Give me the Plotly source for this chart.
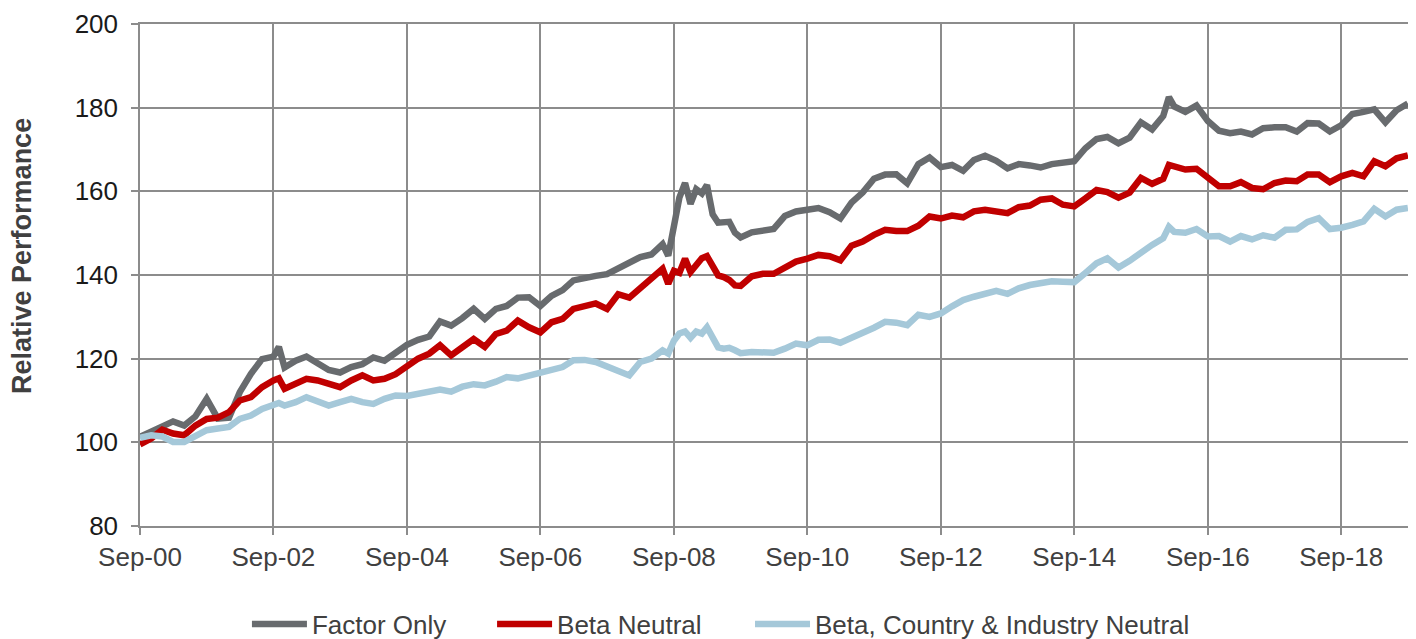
import plotly.graph_objects as go

dates = [
    "2000-09-01", "2000-11-01", "2001-01-01", "2001-03-01", "2001-05-01", "2001-07-01",
    "2001-09-01", "2001-11-01", "2002-01-01", "2002-03-01", "2002-05-01", "2002-07-01",
    "2002-09-01", "2002-10-01", "2002-11-01", "2003-01-01", "2003-03-01", "2003-05-01",
    "2003-07-01", "2003-09-01", "2003-11-01", "2004-01-01", "2004-03-01", "2004-05-01",
    "2004-07-01", "2004-09-01", "2004-11-01", "2005-01-01", "2005-03-01", "2005-05-01",
    "2005-07-01", "2005-09-01", "2005-11-01", "2006-01-01", "2006-03-01", "2006-05-01",
    "2006-07-01", "2006-09-01", "2006-11-01", "2007-01-01", "2007-03-01", "2007-05-01",
    "2007-07-01", "2007-09-01", "2007-11-01", "2008-01-01", "2008-03-01", "2008-05-01",
    "2008-07-01", "2008-08-01", "2008-09-01", "2008-10-01", "2008-11-01", "2008-12-01",
    "2009-01-01", "2009-02-01", "2009-03-01", "2009-04-01", "2009-05-01", "2009-06-01",
    "2009-07-01", "2009-08-01", "2009-09-01", "2009-11-01", "2010-01-01", "2010-03-01",
    "2010-05-01", "2010-07-01", "2010-09-01", "2010-11-01", "2011-01-01", "2011-03-01",
    "2011-05-01", "2011-07-01", "2011-09-01", "2011-11-01", "2012-01-01", "2012-03-01",
    "2012-05-01", "2012-07-01", "2012-09-01", "2012-11-01", "2013-01-01", "2013-03-01",
    "2013-05-01", "2013-07-01", "2013-09-01", "2013-11-01", "2014-01-01", "2014-03-01",
    "2014-05-01", "2014-07-01", "2014-09-01", "2014-11-01", "2015-01-01", "2015-03-01",
    "2015-05-01", "2015-07-01", "2015-09-01", "2015-11-01", "2016-01-01", "2016-02-01",
    "2016-03-01", "2016-05-01", "2016-07-01", "2016-09-01", "2016-11-01", "2017-01-01",
    "2017-03-01", "2017-05-01", "2017-07-01", "2017-09-01", "2017-11-01", "2018-01-01",
    "2018-03-01", "2018-05-01", "2018-07-01", "2018-09-01", "2018-11-01", "2019-01-01",
    "2019-03-01", "2019-05-01", "2019-07-01", "2019-09-01",
]

factor_only = [
    101.3, 102.5, 104.0, 105.0, 104.0, 106.2,
    110.4, 105.7, 105.9, 112.0, 116.4, 119.9,
    120.5, 122.8, 117.9, 119.5, 120.5, 118.7,
    117.3, 116.7, 118.0, 118.7, 120.3, 119.5,
    121.5, 123.3, 124.5, 125.3, 128.9, 127.9,
    129.7, 131.9, 129.5, 131.9, 132.6, 134.6,
    134.7, 132.6, 135.0, 136.4, 138.7, 139.4,
    139.8, 140.2, 141.7, 142.9, 144.3, 144.9,
    147.4, 144.6, 151.4, 158.5, 162.0, 157.0,
    160.5, 159.5, 161.5, 154.5, 152.5, 152.5,
    152.7, 150.1, 149.0, 150.2, 150.5, 151.0,
    154.1, 155.2, 155.6, 156.0, 155.0, 153.5,
    157.3, 159.7, 163.0, 164.0, 164.1, 161.9,
    166.5, 168.1, 165.8, 166.3, 164.9, 167.5,
    168.5, 167.3, 165.5, 166.5, 166.2, 165.7,
    166.5, 166.9, 167.2, 170.3, 172.5, 173.0,
    171.5, 172.8, 176.5, 174.8, 178.0, 182.5,
    180.3, 179.0, 180.5, 176.8, 174.5, 173.9,
    174.3, 173.6, 175.1, 175.3, 175.3, 174.3,
    176.3, 176.2, 174.3, 175.8, 178.5, 179.0,
    179.6, 176.5, 179.4, 181.0,
]

beta_neutral = [
    99.5, 100.9, 103.0, 102.1, 101.7, 104.0,
    105.6, 105.9, 107.2, 110.0, 110.8, 113.2,
    114.8, 115.3, 112.8, 114.0, 115.2, 114.8,
    114.0, 113.2, 114.8, 116.0, 114.8, 115.2,
    116.3, 118.0, 120.0, 121.2, 123.2, 120.8,
    122.8, 124.7, 122.8, 125.9, 126.7, 129.1,
    127.5, 126.3, 128.7, 129.5, 131.9, 132.6,
    133.2, 131.9, 135.4, 134.6, 137.0, 139.4,
    141.5, 137.9, 141.0, 140.5, 143.9, 140.7,
    142.5, 144.0, 144.5, 142.0, 139.9, 139.5,
    138.8, 137.5, 137.4, 139.7, 140.3, 140.3,
    141.9, 143.2, 143.9, 144.8, 144.5, 143.5,
    147.0, 148.0, 149.6, 150.8, 150.5, 150.5,
    151.8, 154.0, 153.5, 154.2, 153.8, 155.2,
    155.6, 155.3, 154.8, 156.2, 156.6, 158.0,
    158.3, 156.8, 156.4, 158.3, 160.3, 159.8,
    158.5, 159.7, 163.2, 161.8, 163.0, 166.3,
    166.0, 165.2, 165.4, 163.2, 161.2, 161.2,
    162.2, 160.8, 160.5, 162.0, 162.6, 162.4,
    164.0, 164.0, 162.2, 163.6, 164.4, 163.6,
    167.2, 166.0, 167.9, 168.6,
]

beta_country_industry = [
    101.1, 101.7, 101.4, 100.1, 100.1, 101.3,
    102.9, 103.3, 103.7, 105.6, 106.4, 108.0,
    109.2, 109.4, 108.8, 109.6, 110.8, 110.0,
    108.8, 109.6, 110.4, 109.6, 109.2, 110.4,
    111.2, 111.1, 111.7, 112.1, 112.6, 112.1,
    113.3, 113.9, 113.6, 114.5, 115.6, 115.3,
    116.0, 116.4, 117.2, 118.0, 119.6, 119.7,
    119.2, 118.0, 117.2, 116.0, 119.2, 120.0,
    122.0, 121.2, 124.3, 126.0, 126.5, 125.0,
    126.5, 126.0, 127.5, 125.0, 122.7, 122.4,
    122.6, 122.0, 121.3, 121.6, 121.6, 121.4,
    122.4, 123.6, 123.2, 124.5, 124.6, 123.8,
    125.0, 126.0, 127.4, 128.8, 128.6, 128.0,
    130.5, 130.0, 130.8, 132.5, 134.0, 134.8,
    135.6, 136.2, 135.5, 136.8, 137.6, 138.2,
    138.5, 138.4, 138.3, 140.5, 142.8, 144.0,
    141.8, 143.4, 145.5, 147.2, 148.8, 151.5,
    150.3, 150.1, 151.0, 149.2, 149.3, 148.0,
    149.3, 148.5, 149.5, 148.9, 150.8, 150.9,
    152.7, 153.6, 151.0, 151.3, 152.0, 152.8,
    155.8, 154.0, 155.6, 156.0,
]

series_names = ["Factor Only", "Beta Neutral", "Beta, Country & Industry Neutral"]
series_values = [factor_only, beta_neutral, beta_country_industry]
series_colors = ["#686b6e", "#c00000", "#a5c8d9"]
legend_ids = ["legend", "legend2", "legend3"]
legend_x = [0.1697, 0.3438, 0.5270]

FONT = "Arial, Liberation Sans, sans-serif"
GRID = "#8c8c8c"

fig = go.Figure()
for name, vals, col, lg in zip(series_names, series_values, series_colors, legend_ids):
    fig.add_trace(go.Scatter(
        x=dates, y=vals, name=name, mode="lines",
        line=dict(color=col, width=6.5), legend=lg,
    ))

legend_style = dict(
    orientation="h", xref="container", yref="container",
    xanchor="left", y=0.0238, yanchor="middle", itemwidth=55,
    font=dict(family=FONT, size=26, color="#404040"),
    bgcolor="rgba(0,0,0,0)",
)

# the page body adds an 8px margin, so the figure is sized 1408x631
fig.update_layout(
    width=1408, height=631,
    margin=dict(l=132, r=5, t=16, b=113, autoexpand=False),
    paper_bgcolor="white", plot_bgcolor="white",
    font=dict(family=FONT, size=26, color="#404040"),
    showlegend=True,
    legend=dict(x=legend_x[0], **legend_style),
    legend2=dict(x=legend_x[1], **legend_style),
    legend3=dict(x=legend_x[2], **legend_style),
    xaxis=dict(
        type="date", range=["2000-09-01", "2019-09-18"],
        tick0="2000-09-01", dtick="M24", tickformat="%b-%y",
        showgrid=True, gridcolor=GRID, gridwidth=1.5,
        showline=True, linecolor=GRID, linewidth=1.5, mirror=True,
        ticks="outside", ticklen=7, tickcolor=GRID, tickwidth=1.5,
        tickfont=dict(family=FONT, size=26, color="#404040"),
        zeroline=False, automargin=False,
    ),
    yaxis=dict(
        range=[80, 200], tick0=80, dtick=20,
        showgrid=True, gridcolor=GRID, gridwidth=1.5,
        showline=True, linecolor=GRID, linewidth=1.5, mirror=True,
        ticks="outside", ticklen=7, tickcolor=GRID, tickwidth=1.5,
        tickfont=dict(family=FONT, size=26, color="#1a1a1a"),
        ticklabelstandoff=8,
        zeroline=False, automargin=False,
    ),
    annotations=[dict(
        text="<b>Relative Performance</b>", textangle=-90,
        xref="paper", yref="paper", x=-0.0928, y=0.538,
        xanchor="center", yanchor="middle", showarrow=False,
        font=dict(family=FONT, size=27, color="#404040"),
    )],
)

fig.write_html("out.html")
